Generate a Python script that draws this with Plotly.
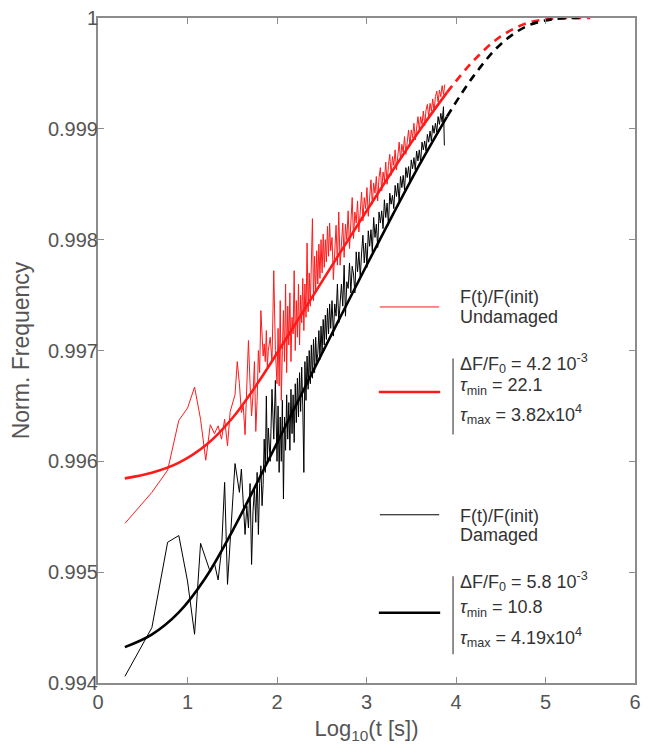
import plotly.graph_objects as go

# ---------------- data ----------------
# Undamaged (red) measured ratio F(t)/F(init)
red_x = [0.301, 0.602, 0.778, 0.903, 1.000, 1.079, 1.146, 1.204, 1.255, 1.301,
         1.342, 1.380, 1.415, 1.447, 1.477, 1.505, 1.531, 1.556, 1.580, 1.602,
         1.623, 1.643, 1.663, 1.681, 1.699, 1.716, 1.732, 1.748, 1.763, 1.778,
         1.792, 1.806, 1.820, 1.833, 1.845, 1.857, 1.869, 1.881, 1.892, 1.903,
         1.924, 1.944, 1.964, 1.982, 2.000,
         2.012, 2.024, 2.036, 2.048, 2.060, 2.072, 2.084, 2.096, 2.108, 2.120,
         2.132, 2.144, 2.156, 2.168, 2.180, 2.192, 2.204, 2.216, 2.228, 2.240,
         2.252, 2.264, 2.276, 2.288, 2.300, 2.312, 2.324, 2.336, 2.348, 2.360,
         2.372, 2.384, 2.396, 2.408, 2.420, 2.432, 2.444, 2.456, 2.468, 2.480,
         2.492, 2.504, 2.516, 2.528, 2.540, 2.552, 2.564, 2.576, 2.588, 2.600,
         2.615, 2.630, 2.645, 2.660, 2.675, 2.690, 2.705, 2.720, 2.735, 2.750,
         2.765, 2.780, 2.795, 2.810, 2.825, 2.840, 2.855, 2.870, 2.885, 2.900,
         2.915, 2.930, 2.945, 2.960, 2.975, 2.990, 3.005, 3.020, 3.035, 3.050,
         3.065, 3.080, 3.095, 3.110, 3.125, 3.140, 3.155, 3.170, 3.185, 3.200,
         3.215, 3.230, 3.245, 3.260, 3.275, 3.290, 3.305, 3.320, 3.335, 3.350,
         3.365, 3.380, 3.395, 3.410, 3.425, 3.440, 3.455, 3.470, 3.485, 3.500,
         3.515, 3.530, 3.545, 3.560, 3.575, 3.590, 3.605, 3.620, 3.635, 3.650,
         3.665, 3.680, 3.695, 3.710, 3.725, 3.740, 3.755, 3.770, 3.785, 3.800,
         3.815, 3.830, 3.845, 3.860, 3.875]
red_y = [0.99544, 0.99572, 0.99592, 0.99637, 0.99648, 0.99667, 0.99638, 0.99601, 0.99633, 0.99625,
         0.99632, 0.99620, 0.99638, 0.99614, 0.99645, 0.99652, 0.99660, 0.99690, 0.99670, 0.99644,
         0.99650, 0.99624, 0.99680, 0.99709, 0.99670, 0.99641, 0.99660, 0.99690, 0.99627, 0.99655,
         0.99700, 0.99680, 0.99736, 0.99710, 0.99695, 0.99706, 0.99690, 0.99718, 0.99685, 0.99700,
         0.99712, 0.99690, 0.99772, 0.99700, 0.99670,
         0.99720, 0.99668, 0.99745, 0.99655, 0.99700, 0.99736, 0.99690, 0.99760, 0.99680, 0.99740,
         0.99705, 0.99752, 0.99690, 0.99730, 0.99715, 0.99772, 0.99700, 0.99745, 0.99712, 0.99760,
         0.99705, 0.99750, 0.99725, 0.99765, 0.99718, 0.99760, 0.99730, 0.99797, 0.99735, 0.99770,
         0.99740, 0.99780, 0.99819, 0.99745, 0.99785, 0.99752, 0.99790, 0.99760, 0.99796, 0.99765,
         0.99800, 0.99770, 0.99805, 0.99775, 0.99800, 0.99780, 0.99812, 0.99785, 0.99815, 0.99790,
         0.99802, 0.99764, 0.99793, 0.99813, 0.99777, 0.99825, 0.99777, 0.99801, 0.99815, 0.99784,
         0.99814, 0.99800, 0.99826, 0.99792, 0.99817, 0.99838, 0.99801, 0.99825, 0.99815, 0.99835,
         0.99807, 0.99831, 0.99843, 0.99817, 0.99838, 0.99828, 0.99847, 0.99821, 0.99842, 0.99854,
         0.99832, 0.99851, 0.99842, 0.99857, 0.99835, 0.99856, 0.99865, 0.99844, 0.99861, 0.99853,
         0.99870, 0.99850, 0.99867, 0.99877, 0.99858, 0.99875, 0.99867, 0.99881, 0.99863, 0.99880,
         0.99888, 0.99872, 0.99886, 0.99879, 0.99893, 0.99877, 0.99892, 0.99899, 0.99885, 0.99899,
         0.99892, 0.99905, 0.99890, 0.99904, 0.99911, 0.99899, 0.99911, 0.99904, 0.99916, 0.99903,
         0.99917, 0.99922, 0.99911, 0.99923, 0.99916, 0.99927, 0.99916, 0.99929, 0.99934, 0.99924,
         0.99935, 0.99929, 0.99939, 0.99931, 0.99940]

# Damaged (black) measured ratio F(t)/F(init)
blk_x = [0.301, 0.602, 0.778, 0.903, 1.000, 1.079, 1.146, 1.204, 1.255, 1.301,
         1.342, 1.380, 1.415, 1.447, 1.477, 1.505, 1.531, 1.556, 1.580, 1.602,
         1.623, 1.643, 1.663, 1.681, 1.699, 1.716, 1.732, 1.748, 1.763, 1.778,
         1.792, 1.806, 1.820, 1.833, 1.845, 1.857, 1.869, 1.881, 1.892, 1.903,
         1.924, 1.944, 1.964, 1.982, 2.000,
         2.012, 2.024, 2.036, 2.048, 2.060, 2.072, 2.084, 2.096, 2.108, 2.120,
         2.132, 2.144, 2.156, 2.168, 2.180, 2.192, 2.204, 2.216, 2.228, 2.240,
         2.252, 2.264, 2.276, 2.288, 2.300, 2.312, 2.324, 2.336, 2.348, 2.360,
         2.372, 2.384, 2.396, 2.408, 2.420, 2.432, 2.444, 2.456, 2.468, 2.480,
         2.492, 2.504, 2.516, 2.528, 2.540, 2.552, 2.564, 2.576, 2.588, 2.600,
         2.615, 2.630, 2.645, 2.660, 2.675, 2.690, 2.705, 2.720, 2.735, 2.750,
         2.765, 2.780, 2.795, 2.810, 2.825, 2.840, 2.855, 2.870, 2.885, 2.900,
         2.915, 2.930, 2.945, 2.960, 2.975, 2.990, 3.005, 3.020, 3.035, 3.050,
         3.065, 3.080, 3.095, 3.110, 3.125, 3.140, 3.155, 3.170, 3.185, 3.200,
         3.215, 3.230, 3.245, 3.260, 3.275, 3.290, 3.305, 3.320, 3.335, 3.350,
         3.365, 3.380, 3.395, 3.410, 3.425, 3.440, 3.455, 3.470, 3.485, 3.500,
         3.515, 3.530, 3.545, 3.560, 3.575, 3.590, 3.605, 3.620, 3.635, 3.650,
         3.665, 3.680, 3.695, 3.710, 3.725, 3.740, 3.755, 3.770, 3.785, 3.800,
         3.815, 3.830, 3.845, 3.860, 3.870]
blk_y = [0.99406, 0.99450, 0.99527, 0.99533, 0.99492, 0.99444, 0.99526, 0.99512, 0.99500, 0.99508,
         0.99493, 0.99520, 0.99581, 0.99489, 0.99530, 0.99570, 0.99598, 0.99585, 0.99572, 0.99593,
         0.99560, 0.99534, 0.99560, 0.99540, 0.99580, 0.99507, 0.99555, 0.99575, 0.99545, 0.99590,
         0.99534, 0.99580, 0.99596, 0.99560, 0.99579, 0.99620, 0.99590, 0.99659, 0.99600, 0.99630,
         0.99600, 0.99665, 0.99620, 0.99673, 0.99600,
         0.99650, 0.99590, 0.99640, 0.99600, 0.99655, 0.99566, 0.99640, 0.99610, 0.99660, 0.99620,
         0.99653, 0.99610, 0.99665, 0.99625, 0.99660, 0.99617, 0.99670, 0.99635, 0.99675, 0.99640,
         0.99680, 0.99645, 0.99685, 0.99650, 0.99590, 0.99690, 0.99655, 0.99695, 0.99665, 0.99700,
         0.99670, 0.99705, 0.99675, 0.99710, 0.99680, 0.99712, 0.99690, 0.99697, 0.99718, 0.99692,
         0.99722, 0.99698, 0.99728, 0.99705, 0.99732, 0.99710, 0.99738, 0.99715, 0.99742, 0.99720,
         0.99745, 0.99713, 0.99742, 0.99731, 0.99760, 0.99725, 0.99748, 0.99760, 0.99740, 0.99777,
         0.99731, 0.99762, 0.99756, 0.99779, 0.99752, 0.99776, 0.99769, 0.99752, 0.99789, 0.99771,
         0.99789, 0.99766, 0.99788, 0.99804, 0.99779, 0.99797, 0.99775, 0.99808, 0.99794, 0.99809,
         0.99789, 0.99820, 0.99802, 0.99814, 0.99793, 0.99825, 0.99815, 0.99826, 0.99810, 0.99836,
         0.99820, 0.99833, 0.99813, 0.99842, 0.99832, 0.99840, 0.99828, 0.99849, 0.99839, 0.99851,
         0.99834, 0.99857, 0.99847, 0.99858, 0.99845, 0.99865, 0.99856, 0.99866, 0.99853, 0.99872,
         0.99864, 0.99874, 0.99863, 0.99880, 0.99871, 0.99881, 0.99870, 0.99888, 0.99881, 0.99889,
         0.99880, 0.99895, 0.99888, 0.99898, 0.99889, 0.99903, 0.99896, 0.99905, 0.99897, 0.99911,
         0.99904, 0.99914, 0.99906, 0.99920, 0.99885]

# Fitted curves (solid over the measured range, dashed extrapolation)
fit_red_x = [0.3, 0.6, 0.9, 1.2, 1.5, 1.8, 2.1, 2.4, 2.7, 3.0, 3.3, 3.6, 3.9]
fit_red_y = [0.995846, 0.995897, 0.995986, 0.996142, 0.996389, 0.996724, 0.997104,
             0.997491, 0.997876, 0.998258, 0.998633, 0.998994, 0.999329]
ext_red_x = [3.9, 4.2, 4.5, 4.8, 5.1, 5.5]
ext_red_y = [0.999329, 0.999618, 0.999834, 0.999955, 0.999995, 1.0]

fit_blk_x = [0.3, 0.6, 0.9, 1.2, 1.5, 1.8, 2.1, 2.4, 2.7, 3.0, 3.3, 3.6, 3.9]
fit_blk_y = [0.994324, 0.994437, 0.994635, 0.994948, 0.995369, 0.995843, 0.996327,
             0.996809, 0.997290, 0.997767, 0.998235, 0.998688, 0.999111]
ext_blk_x = [3.9, 4.2, 4.5, 4.8, 5.1, 5.4]
ext_blk_y = [0.999111, 0.999480, 0.999764, 0.999930, 0.999991, 1.0]

x_ticks = [0, 1, 2, 3, 4, 5, 6]
y_ticks = [0.994, 0.995, 0.996, 0.997, 0.998, 0.999, 1.0]
y_tick_text = ["0.994", "0.995", "0.996", "0.997", "0.998", "0.999", "1"]

RED = "#ff1a1a"
BLK = "#000000"
FONT = "Liberation Sans, Arial, Helvetica, sans-serif"

fig = go.Figure()
fig.add_trace(go.Scatter(x=red_x, y=red_y, mode="lines", line=dict(color=RED, width=1)))
fig.add_trace(go.Scatter(x=blk_x, y=blk_y, mode="lines", line=dict(color=BLK, width=1)))
fig.add_trace(go.Scatter(x=fit_red_x, y=fit_red_y, mode="lines",
                         line=dict(color=RED, width=2.6, shape="spline")))
fig.add_trace(go.Scatter(x=ext_red_x, y=ext_red_y, mode="lines",
                         line=dict(color=RED, width=2.6, shape="spline", dash="8px,6px")))
fig.add_trace(go.Scatter(x=fit_blk_x, y=fit_blk_y, mode="lines",
                         line=dict(color=BLK, width=2.6, shape="spline")))
fig.add_trace(go.Scatter(x=ext_blk_x, y=ext_blk_y, mode="lines",
                         line=dict(color=BLK, width=2.6, shape="spline", dash="8px,6px")))

# ---------------- custom legend ----------------
def px_x(p):
    return (p - 98) / 543.0

def px_y(p):
    return (683 - p) / 672.0

shapes = [
    dict(type="line", xref="paper", yref="paper", x0=px_x(383), x1=px_x(443),
         y0=px_y(303), y1=px_y(303), line=dict(color=RED, width=1)),
    dict(type="line", xref="paper", yref="paper", x0=px_x(382), x1=px_x(444),
         y0=px_y(389), y1=px_y(389), line=dict(color=RED, width=2.6)),
    dict(type="line", xref="paper", yref="paper", x0=px_x(457), x1=px_x(457),
         y0=px_y(355), y1=px_y(432), line=dict(color="#555555", width=1.3)),
    dict(type="line", xref="paper", yref="paper", x0=px_x(383), x1=px_x(443),
         y0=px_y(513), y1=px_y(513), line=dict(color=BLK, width=1)),
    dict(type="line", xref="paper", yref="paper", x0=px_x(382), x1=px_x(444),
         y0=px_y(612), y1=px_y(612), line=dict(color=BLK, width=2.6)),
    dict(type="line", xref="paper", yref="paper", x0=px_x(457), x1=px_x(457),
         y0=px_y(575), y1=px_y(654), line=dict(color="#555555", width=1.3)),
]

legend_lines = [
    ("F(t)/F(init)", 293),
    ("Undamaged", 313),
    ("ΔF/F<sub>0</sub> = 4.2 10<sup>-3</sup>", 360),
    ("<i>τ</i><sub>min</sub> = 22.1", 383),
    ("<i>τ</i><sub>max</sub> = 3.82x10<sup>4</sup>", 412),
    ("F(t)/F(init)", 514),
    ("Damaged", 533),
    ("ΔF/F<sub>0</sub> = 5.8 10<sup>-3</sup>", 580),
    ("<i>τ</i><sub>min</sub> = 10.8", 608),
    ("<i>τ</i><sub>max</sub> = 4.19x10<sup>4</sup>", 637),
]
annotations = []
for txt, py in legend_lines:
    annotations.append(dict(text=txt, xref="paper", yref="paper", x=px_x(462), y=px_y(py),
                            xanchor="left", yanchor="middle", showarrow=False,
                            font=dict(family=FONT, size=18, color="#333333")))

axis_common = dict(showline=True, linecolor="#8c8c8c", linewidth=2, mirror="ticks",
                   ticks="inside", ticklen=6, tickwidth=1.3, tickcolor="#8c8c8c",
                   showgrid=False, zeroline=False,
                   tickfont=dict(family=FONT, size=20, color="#555555"))

fig.update_layout(
    width=648, height=744,
    margin=dict(l=98, r=7, t=11, b=61),
    paper_bgcolor="white", plot_bgcolor="white",
    showlegend=False,
    shapes=shapes, annotations=annotations,
    xaxis=dict(range=[0, 6], tickvals=x_ticks, **axis_common,
               title=dict(text="Log<sub>10</sub>(t [s])", standoff=9,
                          font=dict(family=FONT, size=22, color="#555555"))),
    yaxis=dict(range=[0.994, 1.0], tickvals=y_ticks, ticktext=y_tick_text, **axis_common,
               ticklabelstandoff=-6,
               title=dict(text="Norm. Frequency", standoff=12,
                          font=dict(family=FONT, size=23, color="#555555"))),
)

fig.write_html("out.html")
